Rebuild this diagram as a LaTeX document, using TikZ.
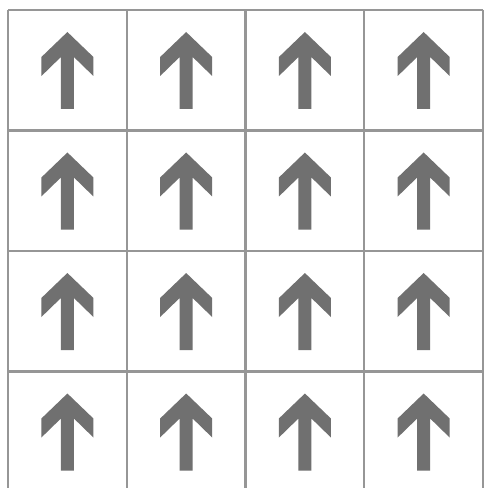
\documentclass[tikz,border=0pt]{standalone}
\usepackage{xcolor}
\definecolor{gridline}{RGB}{150,150,150}
\definecolor{arrowfill}{RGB}{112,112,112}

\tikzset{
  gridpen/.style = {draw=gridline, line width=1.6},
  uparrow/.pic = {
    \fill[arrowfill] (0,22) -- (26,47) -- (26,66) -- (6.5,47) -- (6.5,99)
      -- (-6.5,99) -- (-6.5,47) -- (-26,66) -- (-26,47) -- cycle;
  }
}

\begin{document}
\begin{tikzpicture}[x=0.75pt, y=-0.75pt]
    \useasboundingbox (0,0) rectangle (485,488);
    \fill[white] (0,0) rectangle (485,488);
    % cells
    \foreach \col in {0,...,3}
        \foreach \row in {0,...,3}
            \pic at ({8+\col*118.75+59.4}, {10+\row*120.5}) {uparrow};
    % grid
    \foreach \i in {0,...,4}
        \draw[gridpen] ({8+\i*118.75},10) -- ({8+\i*118.75},492);
    \foreach \j in {0,...,3}
        \draw[gridpen] (8,{10+\j*120.5}) -- (483,{10+\j*120.5});
\end{tikzpicture}
\end{document}
